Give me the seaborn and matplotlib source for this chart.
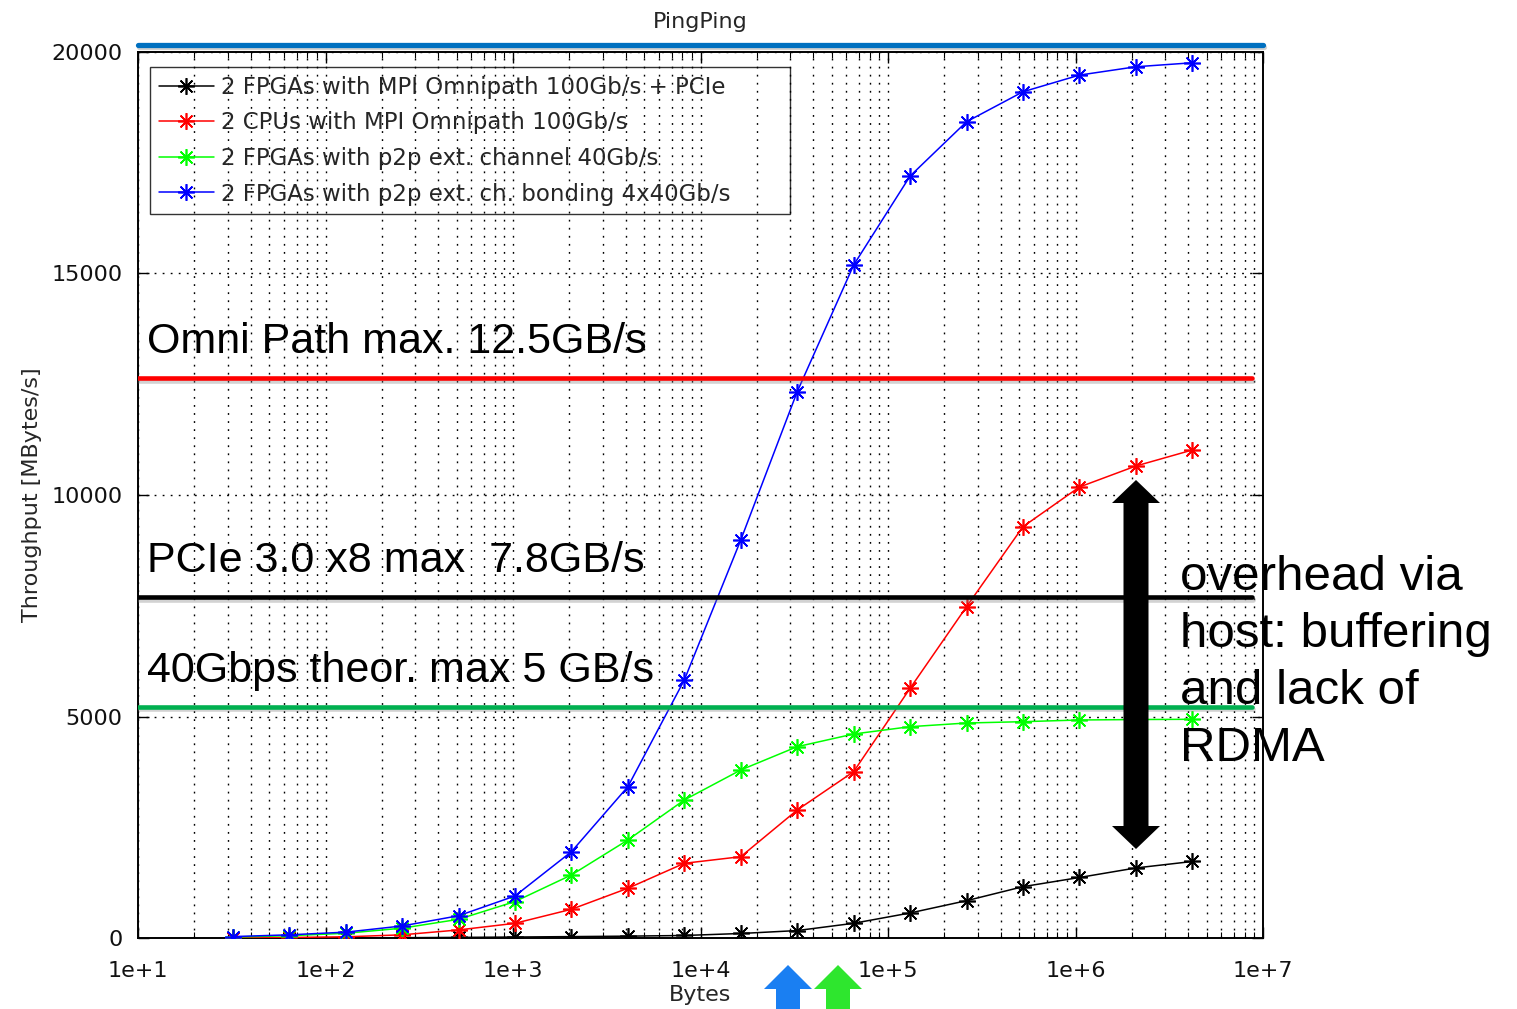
import numpy as np
import pandas as pd
import matplotlib
matplotlib.use("Agg")
import matplotlib.pyplot as plt
import seaborn as sns
from matplotlib import patheffects as pe
from matplotlib.patches import Polygon
from matplotlib.ticker import LogLocator, NullFormatter

# ---- data ---------------------------------------------------------------
msg_bytes = [32, 64, 128, 256, 512, 1024, 2048, 4096, 8192, 16384, 32768,
             65536, 131072, 262144, 524288, 1048576, 2097152, 4194304]

fpga_mpi_pcie = [4, 6, 10, 15, 22, 30, 40, 50, 65, 110, 176, 340, 573,
                 850, 1166, 1373, 1588, 1734]
cpu_mpi = [10, 20, 35, 80, 190, 340, 656, 1130, 1693, 1842, 2895, 3759,
           5640, 7480, 9284, 10179, 10653, 11014]
fpga_p2p = [30, 60, 115, 230, 430, 830, 1430, 2219, 3121, 3797, 4323,
            4609, 4774, 4857, 4887, 4925, 4935, 4941]
fpga_bonding = [40, 80, 140, 280, 510, 956, 1955, 3421, 5827, 8984, 12328,
                15185, 17192, 18417, 19093, 19469, 19657, 19747]

series_labels = [
    "2 FPGAs with MPI Omnipath 100Gb/s + PCIe",
    "2 CPUs with MPI Omnipath 100Gb/s",
    "2 FPGAs with p2p ext. channel 40Gb/s",
    "2 FPGAs with p2p ext. ch. bonding 4x40Gb/s",
]
series_colors = ["#000000", "#ff0000", "#00ff00", "#0000ff"]

x_tick_values = [1e1, 1e2, 1e3, 1e4, 1e5, 1e6, 1e7]
x_tick_labels = ["1e+1", "1e+2", "1e+3", "1e+4", "1e+5", "1e+6", "1e+7"]
y_tick_values = [0, 5000, 10000, 15000, 20000]

# link limits (MBytes/s) and their captions
limit_values = [12644, 7705, 5225]
limit_labels = ["Omni Path max. 12.5GB/s", "PCIe 3.0 x8 max  7.8GB/s",
                "40Gbps theor. max 5 GB/s"]
limit_colors = ["#ff0000", "#000000", "#00b050"]
bonding_limit = 20158

overhead_lines = ["overhead via", "host: buffering", "and lack of", "RDMA"]

# ---- figure ---------------------------------------------------------------
sns.set_theme(style="white")
plt.rcParams["font.family"] = ["DejaVu Sans"]

W, H = 1517, 1009
fig = plt.figure(figsize=(W / 100, H / 100), dpi=100)
ax = fig.add_axes([0.0910, 0.0700, 0.7416, 0.8789])
ax.set_xscale("log")

df = pd.DataFrame({
    "bytes": msg_bytes * 4,
    "throughput": fpga_mpi_pcie + cpu_mpi + fpga_p2p + fpga_bonding,
    "series": np.repeat(series_labels, len(msg_bytes)),
})

sns.lineplot(data=df, x="bytes", y="throughput", hue="series",
             hue_order=series_labels, palette=series_colors,
             estimator=None, sort=False, legend=False, ax=ax,
             marker=(8, 2, 0), markersize=12, linewidth=1.1)

series_lines = list(ax.lines[:4])
for line, c in zip(series_lines, series_colors):
    line.set_markeredgecolor(c)
    line.set_markerfacecolor(c)
    line.set_markeredgewidth(1.2)
    line.set_zorder(3)

ax.set_xlim(10, 1e7)
ax.set_ylim(0, 20000)
ax.set_xticks(x_tick_values)
ax.set_xticklabels(x_tick_labels)
ax.xaxis.set_minor_locator(LogLocator(base=10, subs=np.arange(2, 10)))
ax.xaxis.set_minor_formatter(NullFormatter())
ax.set_yticks(y_tick_values)
ax.set_yticklabels([str(v) for v in y_tick_values])

dot = (0, (1.3, 4.5))
ax.grid(True, which="both", axis="x", color="black", linestyle=dot, linewidth=1.0)
ax.grid(True, which="major", axis="y", color="black", linestyle=dot, linewidth=1.0)
ax.set_axisbelow(True)

ax.tick_params(which="both", direction="in", top=True, right=True,
               bottom=True, left=True, colors="black", labelcolor="#111111")
ax.tick_params(which="major", length=8, width=1.0, labelsize=16)
ax.tick_params(which="minor", length=4, width=0.8)
ax.tick_params(axis="x", which="major", pad=16)
ax.tick_params(axis="y", which="major", pad=11)
for s in ax.spines.values():
    s.set_visible(True)
    s.set_color("black")
    s.set_linewidth(1.4)

ax.set_title("PingPing", fontsize=16, pad=17)
ax.set_xlabel("Bytes", fontsize=16)
ax.set_ylabel("Throughput [MBytes/s]", fontsize=16)
ax.xaxis.set_label_coords(0.5, -0.053)
ax.yaxis.set_label_coords(-0.0853, 0.5)

leg = ax.legend(handles=series_lines, labels=series_labels, loc="upper left",
                bbox_to_anchor=(0.0107, 0.8236, 0.5689, 0.1590), mode="expand",
                borderaxespad=0, fontsize=16.5,
                frameon=True, fancybox=False, edgecolor="black",
                handlelength=2.4, handletextpad=0.3, labelspacing=0.55,
                borderpad=0.38)
leg.get_frame().set_facecolor("none")
leg.get_frame().set_linewidth(1.0)

# link limit lines with soft shadow
shadow = [pe.SimpleLineShadow(offset=(0.6, -2.0), shadow_color="gray", alpha=0.35),
          pe.Normal()]
for val, col, lab in zip(limit_values, limit_colors, limit_labels):
    ax.axhline(val, xmin=0, xmax=0.99, color=col, linewidth=3.3, zorder=5,
               path_effects=shadow)
    ax.annotate(lab, xy=(0.008, val), xycoords=ax.get_yaxis_transform(),
                xytext=(0, 17.5), textcoords="offset points",
                ha="left", va="baseline", fontsize=31,
                family=["Liberation Sans"], color="black", zorder=6)
ax.axhline(bonding_limit, xmin=0, xmax=1, color="#0070c0", linewidth=3.8,
           clip_on=False, zorder=5, path_effects=shadow)

# overlay annotations in figure pixel coordinates
def fig_poly(pts, color):
    p = Polygon([(x / W, 1 - y / H) for x, y in pts], closed=True,
                transform=fig.transFigure, facecolor=color, edgecolor="none",
                clip_on=False, zorder=10)
    fig.add_artist(p)

cx, top, bot, hw, hl, sw = 1136, 480, 849, 24, 23, 12.5
fig_poly([(cx, top), (cx + hw, top + hl), (cx + sw, top + hl),
          (cx + sw, bot - hl), (cx + hw, bot - hl), (cx, bot),
          (cx - hw, bot - hl), (cx - sw, bot - hl), (cx - sw, top + hl),
          (cx - hw, top + hl)], "black")

for ux, col in [(788, "#1a7ff2"), (838, "#2ee62e")]:
    fig_poly([(ux, 965), (ux + 24, 989), (ux + 12, 989), (ux + 12, 1012),
              (ux - 12, 1012), (ux - 12, 989), (ux - 24, 989)], col)

for i, txt in enumerate(overhead_lines):
    fig.text(1180 / W, 1 - (590 + 57 * i) / H, txt, ha="left", va="baseline",
             fontsize=35.5, family=["Liberation Sans"], color="black", zorder=11)

fig.savefig("out.png", dpi=100)
